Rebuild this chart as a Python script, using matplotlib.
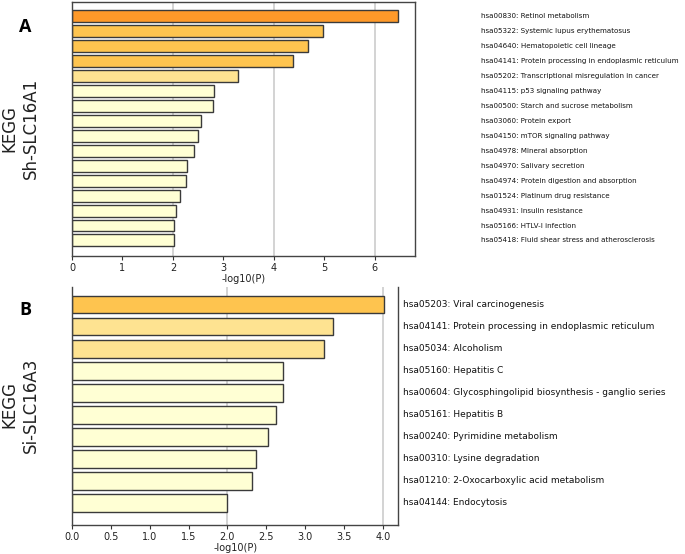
import matplotlib
matplotlib.use("Agg")
import matplotlib.pyplot as plt
import matplotlib.transforms as mtransforms

# ---- data ----
terms_a = [
    "hsa00830: Retinol metabolism",
    "hsa05322: Systemic lupus erythematosus",
    "hsa04640: Hematopoietic cell lineage",
    "hsa04141: Protein processing in endoplasmic reticulum",
    "hsa05202: Transcriptional misregulation in cancer",
    "hsa04115: p53 signaling pathway",
    "hsa00500: Starch and sucrose metabolism",
    "hsa03060: Protein export",
    "hsa04150: mTOR signaling pathway",
    "hsa04978: Mineral absorption",
    "hsa04970: Salivary secretion",
    "hsa04974: Protein digestion and absorption",
    "hsa01524: Platinum drug resistance",
    "hsa04931: Insulin resistance",
    "hsa05166: HTLV-I infection",
    "hsa05418: Fluid shear stress and atherosclerosis",
]
values_a = [6.47, 4.97, 4.67, 4.38, 3.29, 2.82, 2.79, 2.55, 2.49, 2.42,
            2.27, 2.26, 2.15, 2.06, 2.02, 2.02]
levels_a = [3, 2, 2, 2, 1, 0, 0, 0, 0, 0, 0, 0, 0, 0, 0, 0]

terms_b = [
    "hsa05203: Viral carcinogenesis",
    "hsa04141: Protein processing in endoplasmic reticulum",
    "hsa05034: Alcoholism",
    "hsa05160: Hepatitis C",
    "hsa00604: Glycosphingolipid biosynthesis - ganglio series",
    "hsa05161: Hepatitis B",
    "hsa00240: Pyrimidine metabolism",
    "hsa00310: Lysine degradation",
    "hsa01210: 2-Oxocarboxylic acid metabolism",
    "hsa04144: Endocytosis",
]
values_b = [4.01, 3.36, 3.24, 2.72, 2.71, 2.63, 2.52, 2.37, 2.32, 2.00]
levels_b = [2, 1, 1, 0, 0, 0, 0, 0, 0, 0]

ticks_a = [0, 1, 2, 3, 4, 5, 6]
ticks_b = [0.0, 0.5, 1.0, 1.5, 2.0, 2.5, 3.0, 3.5, 4.0]
grid_a = [2, 4, 6]
grid_b = [2.0, 4.0]

palette = ["#ffffd4", "#fee391", "#fec44f", "#fe9929"]

fig = plt.figure(figsize=(6.85, 5.54), dpi=100)
W, H = 685, 554


def px_axes(l, t, r, b):
    return fig.add_axes([l / W, 1 - b / H, (r - l) / W, (b - t) / H])


def draw(ax, terms, values, levels, ticks, grids, xlim, ylim, label_x, top_spine,
         label_size, xlabel_pad):
    for g in grids:
        ax.axvline(g, color="#cccccc", lw=1.2, zorder=0)
    y = list(range(len(values)))
    ax.barh(y, values, height=0.8, color=[palette[l] for l in levels],
            edgecolor="#3a3a3a", linewidth=1.0, zorder=2)
    ax.set_xlim(*xlim)
    ax.set_ylim(*ylim)
    ax.set_yticks([])
    ax.set_xticks(ticks)
    ax.set_xticklabels([("%g" % t) if isinstance(t, int) else ("%.1f" % t) for t in ticks])
    ax.tick_params(axis="x", labelsize=7, length=3, width=0.8, color="#333333",
                   labelcolor="#222222", pad=2)
    ax.set_xlabel("-log10(P)", fontsize=7, labelpad=xlabel_pad, color="#222222")
    for s in ax.spines.values():
        s.set_color("#444444")
        s.set_linewidth(1.0)
    ax.spines["top"].set_visible(top_spine)
    trans = mtransforms.blended_transform_factory(ax.transAxes, ax.transData)
    for yi, t in zip(y, terms):
        ax.text(label_x, yi, t, transform=trans, ha="left", va="center",
                fontsize=label_size, color="#111111")


ax1 = px_axes(72, 2, 415, 256)
draw(ax1, terms_a, values_a, levels_a, ticks_a, grid_a, (0, 6.8), (16.04, -0.96),
     (481 - 72) / 343, True, 5.1, 1)

ax2 = px_axes(72, 287, 398.3, 525)
draw(ax2, terms_b, values_b, levels_b, ticks_b, grid_b, (0, 4.2), (10.0, -0.8),
     (403 - 72) / 326.3, False, 6.5, 0.5)

fig.text(25 / W, 1 - 27 / H, "A", fontsize=13, fontweight="bold",
         family="Open Sans", ha="center", va="center")
fig.text(25 / W, 1 - 310 / H, "B", fontsize=13, fontweight="bold",
         family="Open Sans", ha="center", va="center")
fig.text(20 / W, 1 - 128 / H, "KEGG\nSh-SLC16A1", fontsize=12, rotation=90,
         ha="center", va="center", multialignment="center", color="#222222")
fig.text(20 / W, 1 - 405 / H, "KEGG\nSi-SLC16A3", fontsize=12, rotation=90,
         ha="center", va="center", multialignment="center", color="#222222")

fig.savefig("out.png", dpi=100)
